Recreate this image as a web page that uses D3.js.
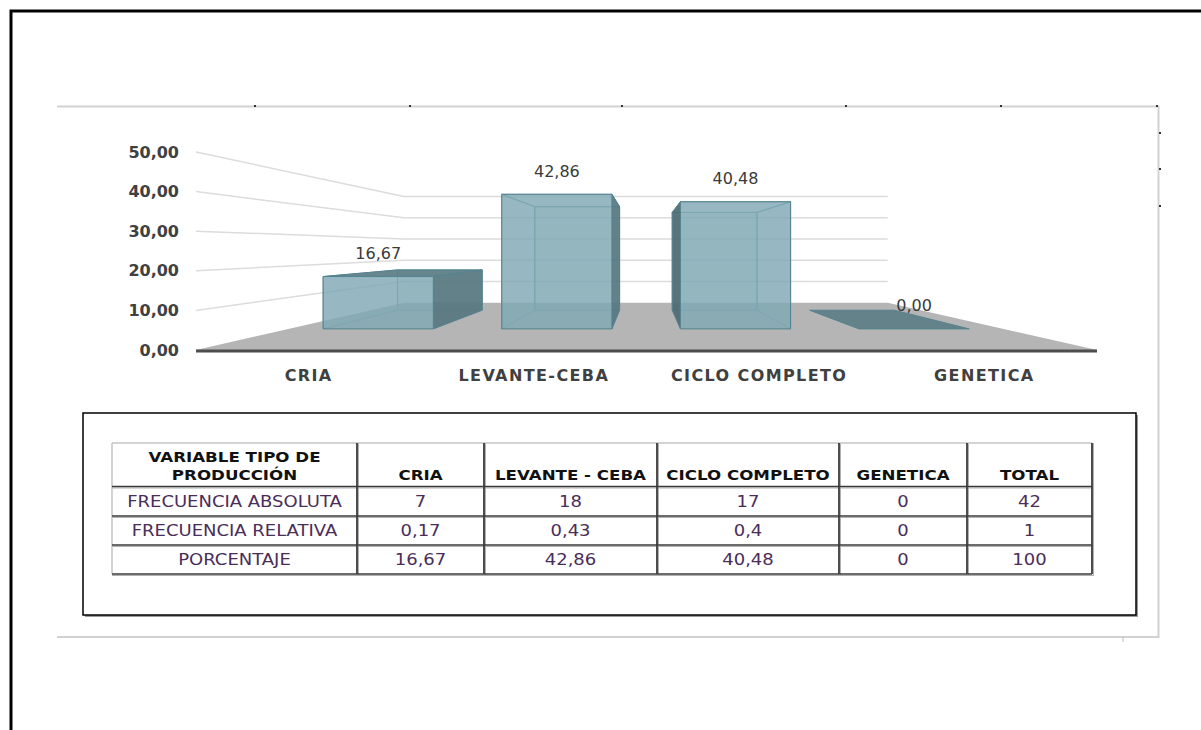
<!DOCTYPE html>
<html>
<head>
<meta charset="utf-8">
<script src="https://cdn.jsdelivr.net/npm/d3@7"></script>
<style>
body{margin:0;background:#fff;}
svg{display:block;font-family:"DejaVu Sans",sans-serif;}
</style>
</head>
<body>
<div id="chart"></div>
<script>
// chart data
const categories = ["CRIA", "LEVANTE-CEBA", "CICLO COMPLETO", "GENETICA"];
const porcentaje = [16.67, 42.86, 40.48, 0];
const yTicks = [0, 10, 20, 30, 40, 50];

// table data
const tableHeader = ["CRIA", "LEVANTE - CEBA", "CICLO COMPLETO", "GENETICA", "TOTAL"];
const tableCorner = ["VARIABLE TIPO DE", "PRODUCCIÓN"];
const rowLabels = ["FRECUENCIA ABSOLUTA", "FRECUENCIA RELATIVA", "PORCENTAJE"];
const frecAbsoluta = [7, 18, 17, 0, 42];
const frecRelativa = [0.17, 0.43, 0.4, 0, 1];
const porcTabla = [16.67, 42.86, 40.48, 0, 100];

const w = 1201, h = 730;
const locale = d3.formatLocale({decimal: ",", thousands: ".", grouping: [3], currency: ["$", ""]});
const fmt2 = locale.format(".2f");
const fmtRaw = v => String(v).replace(".", ",");

const svg = d3.select("#chart").append("svg").attr("width", w).attr("height", h);

// page border, top and left only
svg.append("path").attr("d", "M11,730 V11 H1201")
   .attr("fill", "none").attr("stroke", "#000").attr("stroke-width", 3);

// grey frame of the pasted chart
svg.append("path").attr("d", "M57,106.5 H1158.5 V637 H57")
   .attr("fill", "none").attr("stroke", "#d2d2d2").attr("stroke-width", 2);
const handles = [[255,106],[410,106],[622,106],[846,106],[1001,106],[1157,106],[1160,133],[1160,169],[1160,206]];
svg.selectAll(".handle").data(handles).enter().append("rect")
   .attr("x", d => d[0] - 1).attr("y", d => d[1] - 1).attr("width", 2).attr("height", 2).attr("fill", "#333");
svg.append("line").attr("x1", 1123).attr("x2", 1123).attr("y1", 637).attr("y2", 642).attr("stroke", "#bbb");

// ---- 3D bar chart (one point perspective) ----
const vp = {x: 645, y: 248};      // vanishing point
const sBack = 0.537;              // depth of back wall
const sBarFront = 0.793, sBarBack = 0.61;

const x = d3.scaleBand().domain(categories).range([196, 1097])
            .paddingInner(0.383).paddingOuter(0.1915);
const y = d3.scaleLinear().domain([0, 50]).range([350, 152]);

function proj(X, v, s) {
    return [vp.x + (X - vp.x) * s, vp.y + (y(v) - vp.y) * s];
}
const line = d3.line();
const x0 = x.range()[0], x1 = x.range()[1];

// gridlines: left wall + back wall
svg.selectAll(".grid").data(yTicks.filter(t => t > 0)).enter().append("path")
   .attr("d", t => line([proj(x0, t, 1), proj(x0, t, sBack), proj(x1, t, sBack)]))
   .attr("fill", "none").attr("stroke", "#dcdcdc").attr("stroke-width", 1.5);

// y labels
svg.selectAll(".ylab").data(yTicks).enter().append("text")
   .attr("x", 179).attr("y", t => y(t))
   .attr("text-anchor", "end").attr("dominant-baseline", "central")
   .attr("font-size", 16).attr("font-weight", "bold").attr("fill", "#404040")
   .text(t => fmt2(t));

// floor
svg.append("path")
   .attr("d", line([proj(x0, 0, 1), proj(x0, 0, sBack), proj(x1, 0, sBack), proj(x1, 0, 1)]) + "Z")
   .attr("fill", "#b5b5b5");
svg.append("line").attr("x1", x0).attr("x2", x1).attr("y1", y(0) + 1).attr("y2", y(0) + 1)
   .attr("stroke", "#4d4d4d").attr("stroke-width", 3);

// bars
const bars = categories.map((c, i) => ({cat: c, v: porcentaje[i]}));
bars.forEach(d => {
    const X0 = x(d.cat), X1 = X0 + x.bandwidth(), v = d.v;
    const g = svg.append("g");
    const face = (pts, fill, op, stroke) => g.append("path").attr("d", line(pts) + "Z")
        .attr("fill", fill).attr("fill-opacity", op)
        .attr("stroke", stroke || "#55838f").attr("stroke-width", 1).attr("stroke-linejoin", "round");

    const ft = [proj(X0, v, sBarFront), proj(X1, v, sBarFront), proj(X1, v, sBarBack), proj(X0, v, sBarBack)];
    const leftF = [proj(X0, 0, sBarFront), proj(X0, 0, sBarBack), proj(X0, v, sBarBack), proj(X0, v, sBarFront)];
    const rightF = [proj(X1, 0, sBarFront), proj(X1, 0, sBarBack), proj(X1, v, sBarBack), proj(X1, v, sBarFront)];
    const topVisible = y(v) > vp.y;

    if (v > 0) {
        // hidden faces: only faint edges through the glass
        face([proj(X0, 0, sBarBack), proj(X1, 0, sBarBack), proj(X1, v, sBarBack), proj(X0, v, sBarBack)], "#7fa5b0", 0.25, "#6f9aa5");
        if (X1 >= vp.x) face(rightF, "#7fa5b0", 0.1, "#6f9aa5");
        if (X0 <= vp.x) face(leftF, "#7fa5b0", 0.1, "#6f9aa5");
        if (!topVisible) face(ft, "#7fa5b0", 0.1, "#6f9aa5");
        // visible side face
        if (X1 < vp.x) face(rightF, "#587780", 0.92);
        if (X0 > vp.x) face(leftF, "#4d6a72", 0.92);
    }
    // top face
    if (topVisible) face(ft, "#5f7f87", 0.95);
    // front face
    if (v > 0) face([proj(X0, 0, sBarFront), proj(X1, 0, sBarFront), proj(X1, v, sBarFront), proj(X0, v, sBarFront)], "#80a9b4", 0.8);

    // value label
    const p = proj(X0 + x.bandwidth() / 2, v, sBarFront);
    svg.append("text").attr("x", p[0]).attr("y", p[1] - 23)
       .attr("text-anchor", "middle").attr("dominant-baseline", "central")
       .attr("font-size", 16).attr("fill", "#3a3a3a")
       .text(fmt2(v));
});

// category labels
svg.selectAll(".xlab").data(categories).enter().append("text")
   .attr("x", d => x(d) + x.bandwidth() / 2).attr("y", 375)
   .attr("text-anchor", "middle").attr("dominant-baseline", "central")
   .attr("font-size", 16).attr("font-weight", "bold").attr("letter-spacing", 1.4)
   .attr("fill", "#404040")
   .text(d => d);

// ---- table ----
svg.append("rect").attr("x", 85).attr("y", 415).attr("width", 1053).attr("height", 202).attr("fill", "#9a9a9a");
svg.append("rect").attr("x", 83).attr("y", 413).attr("width", 1053).attr("height", 202)
   .attr("fill", "#fff").attr("stroke", "#000").attr("stroke-width", 1.5);

const colEdges = [112, 357, 484, 657, 839, 967, 1092];
const rowEdges = [443, 486.5, 516, 545, 574];

// grid shadow then lines
rowEdges.slice(1).forEach(ry => {
    svg.append("line").attr("x1", colEdges[0]).attr("x2", colEdges[6] + 2).attr("y1", ry + 1.5).attr("y2", ry + 1.5)
       .attr("stroke", "#b0b0b0").attr("stroke-width", 1);
});
colEdges.slice(1).forEach(cx => {
    svg.append("line").attr("x1", cx + 1.5).attr("x2", cx + 1.5).attr("y1", rowEdges[0]).attr("y2", rowEdges[4] + 2)
       .attr("stroke", "#b0b0b0").attr("stroke-width", 1);
});
svg.append("line").attr("x1", colEdges[0]).attr("x2", colEdges[6]).attr("y1", rowEdges[0]).attr("y2", rowEdges[0])
   .attr("stroke", "#c4c4c4").attr("stroke-width", 1.5);
svg.append("line").attr("x1", colEdges[0]).attr("x2", colEdges[0]).attr("y1", rowEdges[0]).attr("y2", rowEdges[4])
   .attr("stroke", "#c4c4c4").attr("stroke-width", 1.5);
rowEdges.slice(1).forEach(ry => {
    svg.append("line").attr("x1", colEdges[0]).attr("x2", colEdges[6]).attr("y1", ry).attr("y2", ry)
       .attr("stroke", "#3a3a3a").attr("stroke-width", 1.6);
});
colEdges.slice(1).forEach(cx => {
    svg.append("line").attr("x1", cx).attr("x2", cx).attr("y1", rowEdges[0]).attr("y2", rowEdges[4])
       .attr("stroke", "#3a3a3a").attr("stroke-width", 1.8);
});

function cellText(txt, cx, cy, bold) {
    svg.append("text")
       .attr("transform", `translate(${cx},${cy}) scale(${bold ? 1.15 : 1.2},1)`)
       .attr("text-anchor", "middle").attr("dominant-baseline", "central")
       .attr("font-size", bold ? 14.5 : 15).attr("font-weight", bold ? "bold" : "normal")
       .attr("fill", bold ? "#111" : "#4a2d5a")
       .text(txt);
}
const colMid = i => (colEdges[i] + colEdges[i + 1]) / 2;

cellText(tableCorner[0], colMid(0), 457, true);
cellText(tableCorner[1], colMid(0), 475, true);
tableHeader.forEach((t, i) => cellText(t, colMid(i + 1), 475, true));

const rows = [frecAbsoluta, frecRelativa, porcTabla];
rows.forEach((vals, r) => {
    const cy = (rowEdges[r + 1] + rowEdges[r + 2]) / 2 + 1;
    cellText(rowLabels[r], colMid(0), cy, false);
    vals.forEach((v, i) => cellText(fmtRaw(v), colMid(i + 1), cy, false));
});
</script>
</body>
</html>
